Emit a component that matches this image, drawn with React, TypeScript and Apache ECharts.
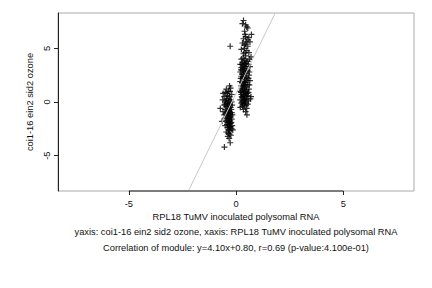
import React, { useEffect, useRef } from "react";
import * as echarts from "echarts";

const xTicks = [-5, 0, 5];
const yTicks = [-5, 0, 5];
const axisMin = -8.3;
const axisMax = 8.3;
const slope = 4.1;
const intercept = 0.8;
const xLabel = "RPL18 TuMV inoculated polysomal RNA";
const yLabel = "coi1-16 ein2 sid2 ozone";
const subLine1 = "yaxis: coi1-16 ein2 sid2 ozone, xaxis: RPL18 TuMV inoculated polysomal RNA";
const subLine2 = "Correlation of module: y=4.10x+0.80, r=0.69 (p-value:4.100e-01)";

const clusterA: [number, number][] = [
  [-0.30, 1.5], [-0.45, 1.2], [-0.25, 1.3], [-0.50, 0.9], [-0.35, 1.0], [-0.60, 0.8], [-0.20, 0.7],
  [-0.40, 0.6], [-0.55, 0.5], [-0.30, 0.5], [-0.45, 0.3], [-0.25, 0.2], [-0.62, 0.2], [-0.35, 0.1],
  [-0.50, 0.0], [-0.20, 0.0], [-0.40, -0.1], [-0.30, -0.2], [-0.55, -0.3], [-0.45, -0.4], [-0.73, -0.6],
  [-0.25, -0.5], [-0.35, -0.6], [-0.50, -0.7], [-0.40, -0.8], [-0.30, -0.9], [-0.60, -0.9], [-0.20, -1.0],
  [-0.45, -1.0], [-0.35, -1.1], [-0.55, -1.2], [-0.25, -1.2], [-0.40, -1.3], [-0.30, -1.4], [-0.50, -1.5],
  [-0.35, -1.6], [-0.20, -1.6], [-0.45, -1.7], [-0.65, -1.8], [-0.30, -1.8], [-0.40, -1.9], [-0.25, -2.0],
  [-0.35, -2.1], [-0.50, -2.2], [-0.30, -2.3], [-0.40, -2.4], [-0.20, -2.5], [-0.35, -2.6], [-0.28, -2.7],
  [-0.45, -2.8], [-0.30, -3.0], [-0.38, -3.2], [-0.32, -3.4], [-0.27, -3.8], [-0.54, -4.2], [-0.15, -2.6],
  [-0.18, -2.2], [-0.33, 0.3], [-0.28, -0.3], [-0.38, -0.4], [-0.22, -0.7], [-0.33, -0.8], [-0.27, -1.1],
  [-0.37, -1.3], [-0.23, -1.4], [-0.32, -1.5], [-0.27, -1.7], [-0.37, -1.8], [-0.22, -1.9], [-0.30, -2.0],
  [-0.42, -2.1], [-0.25, -2.3], [-0.33, -2.4], [-0.40, -0.2], [-0.48, -1.1], [-0.42, 0.8], [-0.28, 1.0],
  [-0.52, -0.2], [-0.18, -0.3], [-0.43, -1.5], [-0.17, -1.2], [-0.47, 0.1], [-0.36, -2.9], [-0.24, -3.1],
];

const outliers: [number, number][] = [[-0.27, 5.2]];

const clusterB: [number, number][] = [
  [0.35, 7.6], [0.30, 7.3], [0.45, 7.2], [0.50, 7.0], [0.55, 6.9], [0.40, 6.6], [0.72, 6.3], [0.45, 6.1],
  [0.60, 6.0], [0.35, 5.9], [0.55, 5.8], [0.65, 5.6], [0.30, 5.5], [0.45, 5.4], [0.55, 5.2], [0.40, 5.0],
  [0.25, 4.9], [0.50, 4.8], [0.60, 4.6], [0.35, 4.5], [0.45, 4.3], [0.70, 4.2], [0.63, 4.0], [0.25, 4.0],
  [0.40, 3.9], [0.55, 3.8], [0.30, 3.7], [0.45, 3.6], [0.20, 3.5], [0.35, 3.4], [0.50, 3.3], [0.65, 3.3],
  [0.25, 3.2], [0.40, 3.1], [0.30, 3.0], [0.55, 2.9], [0.20, 2.8], [0.45, 2.7], [0.35, 2.6], [0.60, 2.5],
  [0.25, 2.4], [0.50, 2.3], [0.30, 2.2], [0.40, 2.1], [0.65, 2.0], [0.20, 1.9], [0.45, 1.8], [0.35, 1.7],
  [0.55, 1.6], [0.25, 1.5], [0.40, 1.4], [0.30, 1.3], [0.60, 1.2], [0.50, 1.1], [0.20, 1.0], [0.35, 0.9],
  [0.45, 0.8], [0.70, 0.5], [0.25, 0.7], [0.55, 0.6], [0.40, 0.5], [0.30, 0.4], [0.50, 0.3], [0.67, 0.3],
  [0.20, 0.2], [0.35, 0.1], [0.45, 0.0], [0.25, -0.1], [0.55, -0.2], [0.40, -0.3], [0.30, -0.4], [0.20, -0.5],
  [0.50, -0.6], [0.35, -0.7], [0.45, -0.9], [0.51, -1.2], [0.28, 0.0], [0.38, 0.3], [0.48, 0.5], [0.33, 0.6],
  [0.43, 1.0], [0.28, 1.1], [0.38, 1.2], [0.48, 1.4], [0.33, 1.5], [0.43, 1.6], [0.28, 1.8], [0.38, 1.9],
  [0.52, 2.0], [0.33, 2.3], [0.43, 2.4], [0.28, 2.6], [0.38, 2.8], [0.48, 2.9], [0.33, 3.1], [0.43, 3.3],
  [0.28, 3.5], [0.38, 3.6], [0.48, 3.8], [0.33, 4.1], [0.43, 4.6], [0.38, 5.3], [0.48, 5.6], [0.42, 6.3],
  [0.58, 0.9], [0.62, 1.6], [0.58, 2.2], [0.62, 2.8], [0.58, 3.5], [0.23, 0.9], [0.22, 2.2], [0.23, 3.0],
  [0.40, -0.1], [0.32, -0.2], [0.47, -0.3], [0.27, 0.5], [0.53, 0.8], [0.37, 0.7], [0.42, 0.2], [0.58, 0.1],
];

const plusPath = "path://M2.4,0h1.2v2.4h2.4v1.2h-2.4v2.4h-1.2v-2.4h-2.4v-1.2h2.4z";
const fontFamily = "'Liberation Sans', Arial, Helvetica, sans-serif";
const fs = 9.3;

export default function App() {
  const ref = useRef<HTMLDivElement>(null);
  useEffect(() => {
    if (!ref.current) return;
    const chart = echarts.init(ref.current, null, { renderer: "svg" });
    const lineData: [number, number][] = [
      [(axisMin - intercept) / slope, axisMin],
      [(axisMax - intercept) / slope, axisMax],
    ];
    const axisSegment: [number, number][] = [
      [xTicks[0], axisMin],
      [xTicks[xTicks.length - 1], axisMin],
    ];
    const points = [...clusterA, ...outliers, ...clusterB];
    chart.setOption({
      animation: false,
      backgroundColor: "#fff",
      textStyle: { fontFamily },
      grid: { left: 58, right: 18, top: 13, bottom: 97, show: true, borderColor: "#aaa", borderWidth: 1 },
      xAxis: {
        type: "value",
        min: axisMin,
        max: axisMax,
        splitLine: { show: false },
        axisLine: { show: false, onZero: false },
        axisTick: { show: true, customValues: xTicks, length: 4, lineStyle: { color: "#222" } },
        axisLabel: { customValues: xTicks, color: "#111", fontSize: fs, margin: 8, fontFamily },
        name: xLabel,
        nameLocation: "middle",
        nameGap: 19,
        nameTextStyle: { color: "#111", fontSize: fs, fontFamily },
      },
      yAxis: {
        type: "value",
        min: axisMin,
        max: axisMax,
        splitLine: { show: false },
        axisLine: { show: true, onZero: false, lineStyle: { color: "#222", width: 1 } },
        axisTick: { show: true, customValues: yTicks, length: 4, lineStyle: { color: "#222" } },
        axisLabel: { customValues: yTicks, rotate: 90, color: "#111", fontSize: fs, margin: 7, fontFamily },
        name: yLabel,
        nameLocation: "middle",
        nameGap: 16,
        nameTextStyle: { color: "#111", fontSize: fs, fontFamily },
      },
      graphic: [
        { type: "text", x: 236, y: 232, style: { text: subLine1, fill: "#111", fontSize: fs, fontFamily, textAlign: "center", textVerticalAlign: "middle" } },
        { type: "text", x: 236, y: 248, style: { text: subLine2, fill: "#111", fontSize: fs, fontFamily, textAlign: "center", textVerticalAlign: "middle" } },
      ],
      series: [
        {
          type: "line",
          data: lineData,
          symbol: "none",
          lineStyle: { color: "#c8c8c8", width: 1 },
          silent: true,
        },
        {
          type: "line",
          data: axisSegment,
          symbol: "none",
          clip: false,
          lineStyle: { color: "#222", width: 1 },
          silent: true,
        },
        {
          type: "scatter",
          data: points,
          symbol: plusPath,
          symbolSize: 6,
          itemStyle: { color: "#000" },
          silent: true,
        },
      ],
    });
    return () => chart.dispose();
  }, []);
  return <div ref={ref} style={{ width: 432, height: 288, position: "absolute", left: 0, top: 0 }} />;
}
